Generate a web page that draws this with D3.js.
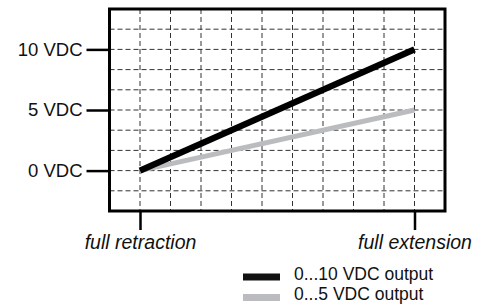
<!DOCTYPE html>
<html><head><meta charset="utf-8">
<script src="https://cdn.jsdelivr.net/npm/d3@7"></script>
<style>body{margin:0;background:#fff}svg{display:block}text{font-family:"Liberation Sans",Arial,sans-serif;fill:#111}</style>
</head><body>
<script>
// Data
const positionLabels = ["full retraction", "full extension"];
const positionValues = [0, 9];
const seriesNames = ["0...10 VDC output", "0...5 VDC output"];
const series10 = [0, 10];
const series5 = [0, 5];
const seriesColors = ["#000000", "#bbbcbf"];
const yTickValues = [0, 5, 10];
const yTickLabels = ["0 VDC", "5 VDC", "10 VDC"];

const W = 483, H = 305;
const svg = d3.select("body").append("svg").attr("width", W).attr("height", H);

const x = d3.scaleLinear().domain([-1, 10]).range([109.5, 445]);
const y = d3.scaleLinear().domain([-10/3, 40/3]).range([211, 9]);

// grid
const g = svg.append("g");
g.selectAll("line.vg").data(d3.range(0, 10)).join("line")
  .attr("x1", d => x(d)).attr("x2", d => x(d))
  .attr("y1", y.range()[1]).attr("y2", y.range()[0])
  .attr("stroke", "#333").attr("stroke-width", 1).attr("stroke-dasharray", "5,3");
g.selectAll("line.hg").data(d3.range(-1, 8).map(i => i * 5/3)).join("line")
  .attr("y1", d => y(d)).attr("y2", d => y(d))
  .attr("x1", x.range()[0]).attr("x2", x.range()[1])
  .attr("stroke", "#333").attr("stroke-width", 1).attr("stroke-dasharray", "5,3");

// series lines
const line = d3.line().x((d, i) => x(positionValues[i])).y(d => y(d));
svg.append("path").datum(series5).attr("d", line).attr("fill", "none")
  .attr("stroke", seriesColors[1]).attr("stroke-width", 5);
svg.append("path").datum(series10).attr("d", line).attr("fill", "none")
  .attr("stroke", seriesColors[0]).attr("stroke-width", 6.5);

// frame
svg.append("rect").attr("x", x.range()[0]).attr("y", y.range()[1])
  .attr("width", x.range()[1] - x.range()[0]).attr("height", y.range()[0] - y.range()[1])
  .attr("fill", "none").attr("stroke", "#000").attr("stroke-width", 3);

// y axis
const yAxis = svg.append("g").attr("transform", `translate(${x.range()[0]},0)`)
  .call(d3.axisLeft(y).tickValues(yTickValues).tickSize(23).tickPadding(4)
    .tickFormat((d, i) => yTickLabels[i]));
yAxis.select(".domain").remove();
yAxis.selectAll(".tick line").attr("stroke", "#000").attr("stroke-width", 2.5);
yAxis.selectAll(".tick text").attr("font-size", 18.5).attr("fill", "#111")
  .attr("font-family", "Liberation Sans, Arial, sans-serif");

// x axis
const xAxis = svg.append("g").attr("transform", `translate(0,${y.range()[0]})`)
  .call(d3.axisBottom(x).tickValues(positionValues).tickSize(19).tickPadding(5)
    .tickFormat((d, i) => positionLabels[i]));
xAxis.select(".domain").remove();
xAxis.selectAll(".tick line").attr("stroke", "#000").attr("stroke-width", 2.5);
xAxis.selectAll(".tick text").attr("font-size", 19.5).attr("font-style", "italic")
  .attr("fill", "#111").attr("font-family", "Liberation Sans, Arial, sans-serif");

// legend
const leg = svg.append("g");
seriesNames.forEach((name, i) => {
  const yy = 277 + i * 20.5;
  leg.append("rect").attr("x", 243).attr("y", yy - 3.5).attr("width", 37).attr("height", 7)
    .attr("fill", seriesColors[i] === "#000000" ? "#111" : seriesColors[i]);
  leg.append("text").attr("x", 294).attr("y", yy + 2.5)
    .attr("font-size", 17.5).text(name);
});
</script>
</body></html>
